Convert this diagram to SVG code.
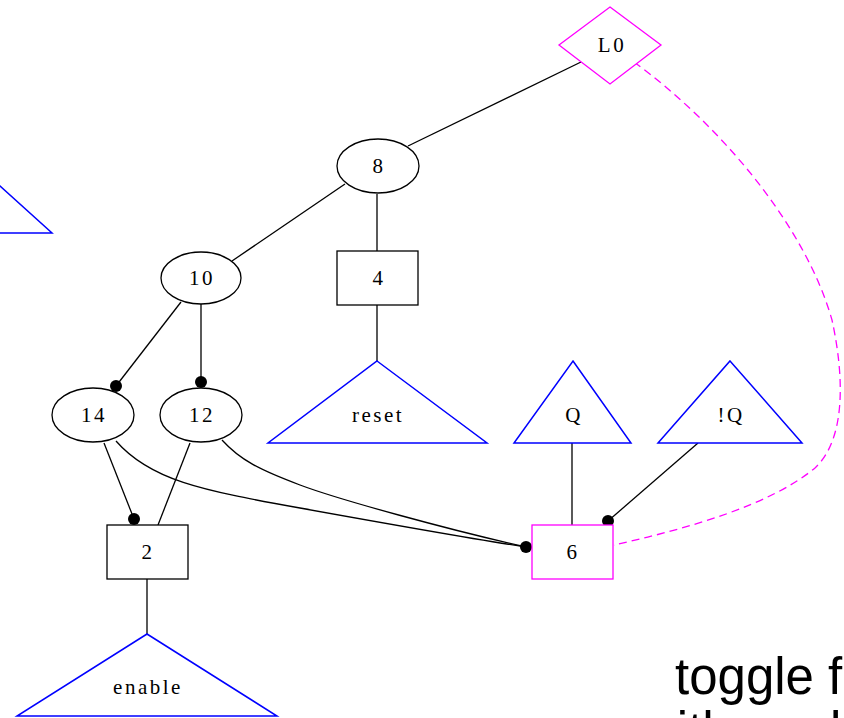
<svg xmlns="http://www.w3.org/2000/svg" width="844" height="718" viewBox="0 0 844 718">
<style>
.lbl{font-family:"Liberation Serif","Times New Roman",serif;font-size:21px;fill:#000;text-anchor:middle;letter-spacing:2.5px}
.n{fill:#fff;stroke:#000;stroke-width:1.3}
.tri{fill:#fff;stroke:#0000ff;stroke-width:1.5}
.mag{fill:#fff;stroke:#ff00ff;stroke-width:1.3}
.e{fill:none;stroke:#000;stroke-width:1.3}
.dot{fill:#000}
.big{font-family:"Liberation Sans",Arial,sans-serif;font-size:51px;fill:#000}
</style>
<rect width="844" height="718" fill="#fff"/>
<g id="connectors">
<line class="e" x1="581" y1="62" x2="408" y2="146"/>
<line class="e" x1="345" y1="184" x2="232" y2="261"/>
<line class="e" x1="377" y1="194" x2="377" y2="251"/>
<line class="e" x1="377" y1="305" x2="377" y2="361"/>
<line class="e" x1="181" y1="302" x2="116" y2="386"/>
<circle class="dot" cx="116" cy="386" r="6"/>
<line class="e" x1="201" y1="304" x2="201" y2="382"/>
<circle class="dot" cx="201" cy="382" r="6"/>
<line class="e" x1="104" y1="443" x2="134" y2="519"/>
<circle class="dot" cx="134" cy="519" r="6"/>
<line class="e" x1="190" y1="443" x2="158" y2="525"/>
<line class="e" x1="147" y1="579" x2="147" y2="634"/>
<path class="e" d="M116,441 C150,480 200,490 300,508 S480,540 526,547"/>
<path class="e" d="M222,440 C240,460 260,470 300,485 S450,530 526,547"/>
<circle class="dot" cx="526" cy="547" r="6"/>
<line class="e" x1="572" y1="443" x2="572" y2="525"/>
<line class="e" x1="698" y1="443" x2="608" y2="521"/>
<circle class="dot" cx="608" cy="521" r="6"/>
<path d="M634,62 C720,125 805,225 832,320 C845,380 845,440 815,468 C770,505 690,528 614,545" fill="none" stroke="#ff00ff" stroke-width="1.3" stroke-dasharray="8,5"/>
</g>
<g id="L0"><polygon class="mag" points="610,7 661,45 610,84 559,45"/><text class="lbl" x="612" y="52">L0</text></g>
<g id="n8"><ellipse class="n" cx="378" cy="166" rx="41" ry="27"/><text class="lbl" x="379" y="173">8</text></g>
<g id="n10"><ellipse class="n" cx="201" cy="278" rx="40" ry="26"/><text class="lbl" x="202" y="285">10</text></g>
<g id="n4"><rect class="n" x="337" y="251" width="81" height="54"/><text class="lbl" x="379" y="285">4</text></g>
<g id="reset"><polygon class="tri" points="377,361 487,443 268,443"/><text class="lbl" x="378" y="422">reset</text></g>
<g id="n14"><ellipse class="n" cx="93" cy="415" rx="41" ry="27"/><text class="lbl" x="94" y="422">14</text></g>
<g id="n12"><ellipse class="n" cx="201" cy="415" rx="41" ry="27"/><text class="lbl" x="202" y="422">12</text></g>
<g id="Q"><polygon class="tri" points="573,361 631,443 514,443"/><text class="lbl" x="574" y="422">Q</text></g>
<g id="notQ"><polygon class="tri" points="730,361 802,443 658,443"/><text class="lbl" x="731" y="422">!Q</text></g>
<g id="n2"><rect class="n" x="107" y="525" width="81" height="54"/><text class="lbl" x="148" y="559">2</text></g>
<g id="n6"><rect class="mag" x="532" y="525" width="81" height="54"/><text class="lbl" x="573" y="559">6</text></g>
<g id="enable"><polygon class="tri" points="147,634 277,716 17,716"/><text class="lbl" x="148" y="694">enable</text></g>
<g id="leftTri"><polyline class="tri" points="-60,132 52,233 -60,233" /></g>
<g id="title"><text class="big" x="675" y="694">toggle flip-flop</text><text class="big" x="640" y="748">with enable</text></g>
</svg>
